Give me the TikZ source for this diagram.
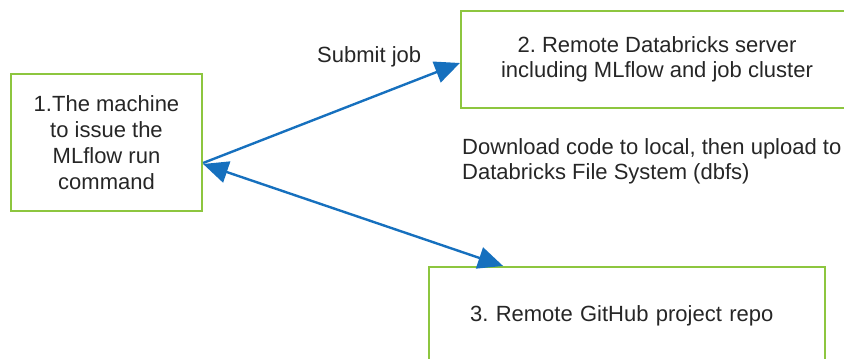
\documentclass[tikz,border=0pt]{standalone}
\usepackage{fontspec}
\setmainfont{Liberation Sans}
\usetikzlibrary{arrows.meta}
\definecolor{boxgreen}{RGB}{141,198,63}
\definecolor{linkblue}{RGB}{22,112,190}
\definecolor{inkgray}{RGB}{38,38,38}
\frenchspacing

\begin{document}
\begin{tikzpicture}[x=1pt,y=1pt,
    every node/.style={text=inkgray, font=\fontsize{22}{26}\selectfont},
    box/.style={draw=boxgreen, line width=2.2pt, inner sep=0pt, align=center},
    link/.style={draw=linkblue, line width=2.4pt, -{Triangle[length=25pt,width=22pt]}},
    twoway/.style={link, {Triangle[length=25pt,width=22pt]}-{Triangle[length=25pt,width=22pt]}}]
  \useasboundingbox (0,0) rectangle (844,359);

  % Boxes
  \node[box, minimum width=191pt, minimum height=137pt] (machine) at (106.5,216.5)
    {1.The machine\\to issue the\\MLflow run\\command};
  \node[box, minimum width=392pt, minimum height=97pt,
    font=\fontsize{22}{25}\selectfont] (server) at (657,299.5)
    {2. Remote Databricks server\\including MLflow and job cluster};
  \node[box, anchor=north west, inner xsep=41pt, text width=314pt, align=left,
    text height=54pt, text depth=56pt] (repo) at (428,93)
    {3. Remote GitHub project repo};

  % Labels
  \node[anchor=base west, inner sep=0pt] (submit) at (317,296) {Submit job};
  \node[anchor=north west, inner sep=0pt, align=left,
    font=\fontsize{22}{25}\selectfont] (download) at (462,221)
    {Download code to local, then upload to\\Databricks File System (dbfs)};

  % Connectors
  \draw[link] ([yshift=-20.5pt]machine.east) -- ([yshift=-3.5pt]server.west);
  \draw[twoway] ([yshift=-21.5pt]machine.east) -- ([xshift=-124pt]repo.north);
\end{tikzpicture}
\end{document}
